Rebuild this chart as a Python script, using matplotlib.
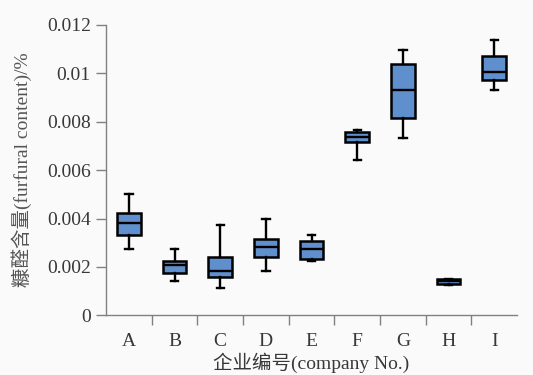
import matplotlib
matplotlib.use('Agg')
import matplotlib.pyplot as plt

# companies and box statistics
COMPANIES = ['A', 'B', 'C', 'D', 'E', 'F', 'G', 'H', 'I']
WHISLO = [0.00273, 0.00144, 0.00111, 0.00185, 0.00226, 0.00643, 0.00734, 0.00126, 0.00931]
Q1 = [0.00330, 0.00174, 0.00159, 0.00239, 0.00233, 0.00715, 0.00816, 0.00130, 0.00973]
MED = [0.00381, 0.00206, 0.00185, 0.00283, 0.00276, 0.00738, 0.00931, 0.00141, 0.01004]
Q3 = [0.00422, 0.00226, 0.00242, 0.00316, 0.00309, 0.00759, 0.01039, 0.00152, 0.01069]
WHISHI = [0.00503, 0.00273, 0.00374, 0.00397, 0.00332, 0.00766, 0.01095, 0.00152, 0.01137]

Y_TICKS = [0, 0.002, 0.004, 0.006, 0.008, 0.01, 0.012]
Y_TICK_LABELS = ['0', '0.002', '0.004', '0.006', '0.008', '0.01', '0.012']

BOX_COLOR = '#5f8fcd'
BG_COLOR = '#fafafa'
SPINE_COLOR = '#808080'
TEXT_COLOR = '#383838'

plt.rcParams['font.family'] = ['Liberation Serif', 'Noto Sans CJK SC']
plt.rcParams['font.size'] = 14

fig = plt.figure(figsize=(5.33, 3.75), dpi=100, facecolor=BG_COLOR)
ax = fig.add_axes([0.199, 0.159, 0.771, 0.775])
ax.set_facecolor(BG_COLOR)

stats = []
for name, lo, q1, med, q3, hi in zip(COMPANIES, WHISLO, Q1, MED, Q3, WHISHI):
    stats.append({'label': name, 'whislo': lo, 'q1': q1, 'med': med,
                  'q3': q3, 'whishi': hi, 'fliers': []})

positions = list(range(1, len(COMPANIES) + 1))
ax.bxp(stats, positions=positions, widths=0.52, capwidths=0.16,
       showfliers=False, patch_artist=True,
       boxprops=dict(facecolor=BOX_COLOR, edgecolor='black', linewidth=1.8),
       medianprops=dict(color='black', linewidth=1.7),
       whiskerprops=dict(color='black', linewidth=1.7),
       capprops=dict(color='black', linewidth=1.7))

ax.set_xlim(0.5, len(COMPANIES) + 0.5)
ax.set_ylim(0, 0.012)

# category labels centred, tick marks between categories
ax.set_xticks(positions)
ax.set_xticklabels(COMPANIES)
ax.tick_params(axis='x', which='major', length=0, pad=13, labelcolor=TEXT_COLOR)
ax.set_xticks([p + 0.5 for p in positions[:-1]], minor=True)
ax.tick_params(axis='x', which='minor', length=7, width=1, color=SPINE_COLOR)

ax.set_yticks(Y_TICKS)
ax.set_yticklabels(Y_TICK_LABELS)
ax.tick_params(axis='y', length=7, width=1, color=SPINE_COLOR, pad=4,
               labelcolor=TEXT_COLOR)

for side in ['top', 'right']:
    ax.spines[side].set_visible(False)
for side in ['left', 'bottom']:
    ax.spines[side].set_color(SPINE_COLOR)
    ax.spines[side].set_linewidth(1)

ax.set_xlabel('企业编号(company No.)', labelpad=1.5, color=TEXT_COLOR)
ax.set_ylabel('糠醛含量(furfural content)/%', labelpad=11, color='#555555')

fig.savefig('out.png', dpi=100, facecolor=BG_COLOR)
